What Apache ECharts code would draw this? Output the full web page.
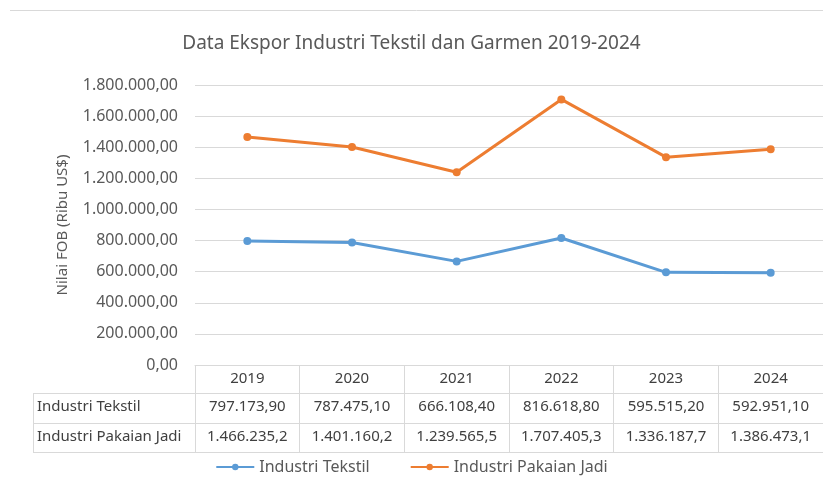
<!DOCTYPE html>
<html>
<head>
<meta charset="utf-8">
<script src="https://cdn.jsdelivr.net/npm/echarts@6/dist/echarts.min.js"></script>
<style>
  html, body { margin: 0; padding: 0; background: #fff; }
  #chart { width: 823px; height: 482px; }
</style>
</head>
<body>
<div id="chart"></div>
<script>
// data
var years = ["2019", "2020", "2021", "2022", "2023", "2024"];
var tekstil = [797173.9, 787475.1, 666108.4, 816618.8, 595515.2, 592951.1];
var pakaian = [1466235.2, 1401160.2, 1239565.5, 1707405.3, 1336187.7, 1386473.1];
var seriesNames = ["Industri Tekstil", "Industri Pakaian Jadi"];

// format angka gaya Indonesia: 1.234.567,89
function fmtId(v, dec) {
  var parts = v.toFixed(dec).split(".");
  var int = parts[0].replace(/\B(?=(\d{3})+(?!\d))/g, ".");
  return parts.length > 1 ? int + "," + parts[1] : int;
}

var FONT = "Noto Sans";
var GRAY = "#595959";
var LINE = "#d9d9d9";
var rowH = [28, 30, 29];

// sumbu x untuk tiap baris tabel data
function tableAxis(offset, formatter, height) {
  return {
    type: "category",
    data: years,
    position: "bottom",
    offset: offset,
    boundaryGap: true,
    axisLine: { show: true, lineStyle: { color: LINE, width: 1 } },
    axisTick: { show: true, interval: 0, length: height, lineStyle: { color: LINE } },
    axisLabel: {
      show: true, interval: 0, margin: 6,
      fontFamily: FONT, fontSize: 15, color: "#404040",
      formatter: formatter
    },
    splitLine: { show: false }
  };
}

var chart = echarts.init(document.getElementById("chart"));
chart.setOption({
  animation: false,
  title: {
    text: "Data Ekspor Industri Tekstil dan Garmen 2019-2024",
    left: "center",
    top: 29,
    textStyle: { fontFamily: FONT, fontSize: 19, fontWeight: "normal", color: GRAY }
  },
  legend: {
    data: seriesNames,
    bottom: 2,
    left: "center",
    itemWidth: 38,
    itemHeight: 8,
    itemGap: 40,
    textStyle: { fontFamily: FONT, fontSize: 16, color: GRAY }
  },
  grid: { left: 195, width: 630, top: 85, height: 280 },
  xAxis: [
    tableAxis(0, function (v) { return v; }, rowH[0]),
    tableAxis(rowH[0], function (v, i) { return fmtId(tekstil[i], 2); }, rowH[1]),
    tableAxis(rowH[0] + rowH[1], function (v, i) { return fmtId(pakaian[i], 1); }, rowH[2]),
    {
      type: "category", data: years, position: "bottom",
      offset: rowH[0] + rowH[1] + rowH[2],
      axisLine: { show: true, lineStyle: { color: LINE } },
      axisTick: { show: false }, axisLabel: { show: false }
    }
  ],
  yAxis: {
    type: "value",
    min: 0,
    max: 1800000,
    interval: 200000,
    name: "Nilai FOB (Ribu US$)",
    nameLocation: "middle",
    nameRotate: 90,
    nameGap: 125,
    nameTextStyle: { fontFamily: FONT, fontSize: 15, color: GRAY },
    axisLine: { show: false },
    axisTick: { show: false },
    axisLabel: {
      margin: 17, fontFamily: FONT, fontSize: 16, color: GRAY,
      formatter: function (v) { return fmtId(v, 2); }
    },
    splitLine: { lineStyle: { color: LINE, width: 1 } }
  },
  series: [
    {
      name: seriesNames[0], type: "line", data: tekstil,
      symbol: "circle", symbolSize: 8,
      itemStyle: { color: "#5B9BD5" },
      lineStyle: { color: "#5B9BD5", width: 3 }
    },
    {
      name: seriesNames[1], type: "line", data: pakaian,
      symbol: "circle", symbolSize: 8,
      itemStyle: { color: "#ED7D31" },
      lineStyle: { color: "#ED7D31", width: 3 }
    }
  ],
  graphic: [
    // garis atas bingkai
    { type: "line", shape: { x1: 10, y1: 10.5, x2: 823, y2: 10.5 }, style: { stroke: LINE, lineWidth: 1 } },
    // kolom label tabel
    { type: "line", shape: { x1: 33.5, y1: 393, x2: 33.5, y2: 452 }, style: { stroke: LINE } },
    { type: "line", shape: { x1: 33, y1: 393.5, x2: 195, y2: 393.5 }, style: { stroke: LINE } },
    { type: "line", shape: { x1: 33, y1: 423.5, x2: 195, y2: 423.5 }, style: { stroke: LINE } },
    { type: "line", shape: { x1: 33, y1: 452.5, x2: 195, y2: 452.5 }, style: { stroke: LINE } },
    { type: "text", left: 37, top: 399, style: { text: seriesNames[0], font: "15px " + FONT, fill: "#404040" } },
    { type: "text", left: 37, top: 429, style: { text: seriesNames[1], font: "15px " + FONT, fill: "#404040" } }
  ]
});
</script>
</body>
</html>
